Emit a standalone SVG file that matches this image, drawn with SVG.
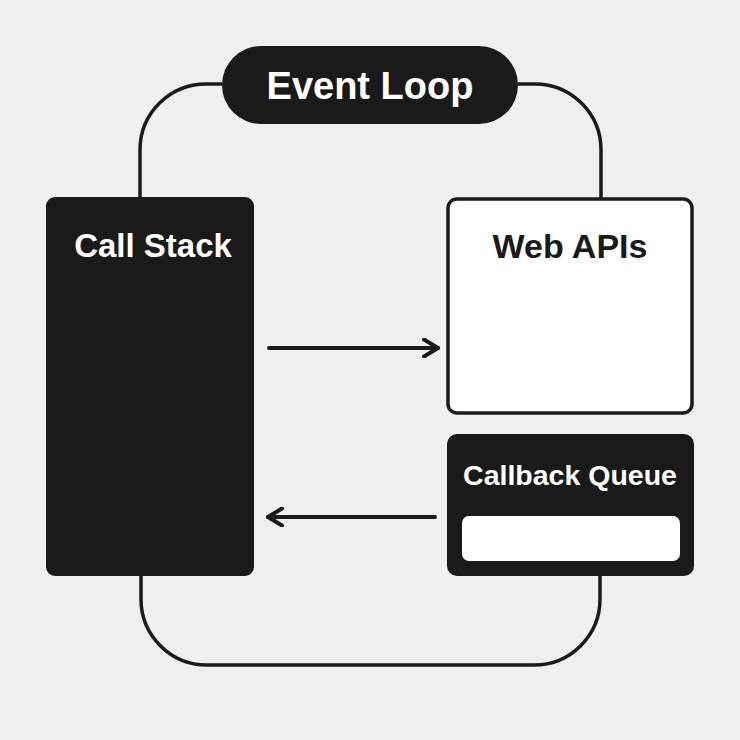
<svg xmlns="http://www.w3.org/2000/svg" width="740" height="740" viewBox="0 0 740 740">
  <defs>
    <style>
      .loop { fill: none; stroke: #1a1a1a; stroke-width: 3.5; }
      .arrow { fill: none; stroke: #1a1a1a; stroke-width: 4; stroke-linecap: round; stroke-linejoin: round; }
      .dark { fill: #1a1a1a; }
      .lbl { font-family: "Liberation Sans", Arial, sans-serif; font-weight: bold; text-anchor: middle; }
    </style>
    <marker id="chev" viewBox="0 0 20 20" refX="18" refY="10" markerWidth="20" markerHeight="20" markerUnits="userSpaceOnUse" orient="auto">
      <path d="M 4 1.5 L 18 10 L 4 18.5" fill="none" stroke="#1a1a1a" stroke-width="4" stroke-linecap="round" stroke-linejoin="round"/>
    </marker>
  </defs>
  <rect width="740" height="740" fill="#efefef"/>

  <g id="connectors">
    <path class="loop" d="M 222 84 H 206 A 66 66 0 0 0 140 150 V 198"/>
    <path class="loop" d="M 518 84 H 535 A 66 66 0 0 1 601 150 V 199"/>
    <path class="loop" d="M 141 575 V 599 A 66 66 0 0 0 207 665 H 534 A 66 66 0 0 0 600 599 V 576"/>
    <path class="arrow" d="M 269 348 H 438" marker-end="url(#chev)"/>
    <path class="arrow" d="M 435 517 H 268" marker-end="url(#chev)"/>
  </g>

  <g id="event-loop">
    <rect class="dark" x="222" y="46" width="296" height="78" rx="39"/>
    <text class="lbl" x="370" y="99" font-size="38" fill="#ffffff">Event Loop</text>
  </g>

  <g id="call-stack">
    <rect class="dark" x="46" y="197" width="208" height="379" rx="9"/>
    <text class="lbl" x="153" y="257" font-size="33" fill="#ffffff">Call Stack</text>
  </g>

  <g id="web-apis">
    <rect x="448" y="199" width="244" height="214" rx="9" fill="#ffffff" stroke="#1a1a1a" stroke-width="3.5"/>
    <text class="lbl" x="570" y="258" font-size="34" fill="#1a1a1a">Web APIs</text>
  </g>

  <g id="callback-queue">
    <rect class="dark" x="447" y="434" width="247" height="142" rx="10"/>
    <text class="lbl" x="570" y="485" font-size="28.5" fill="#ffffff">Callback Queue</text>
    <rect x="462" y="516" width="218" height="45" rx="7" fill="#ffffff"/>
  </g>
</svg>
